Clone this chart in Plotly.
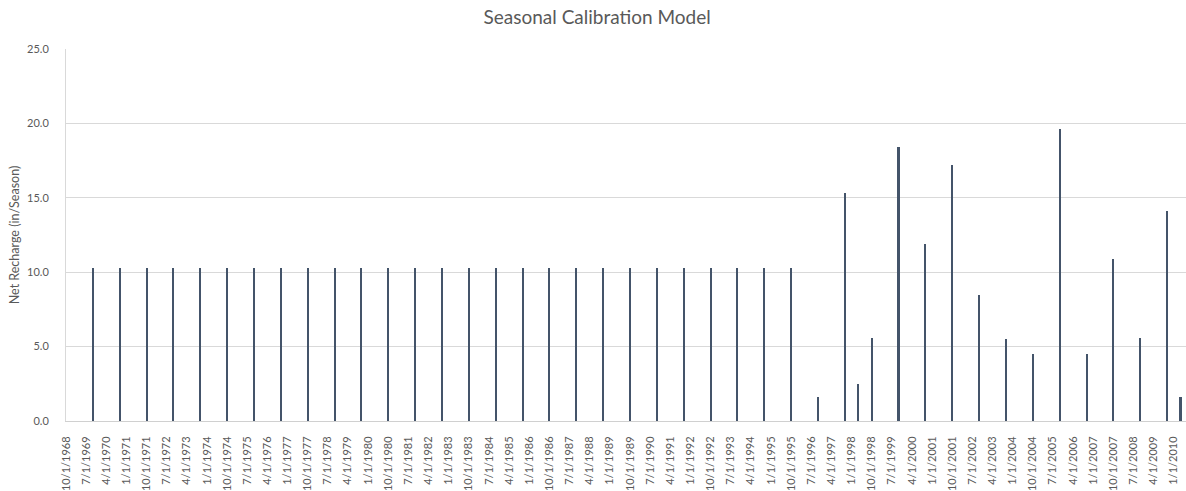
import pandas as pd
import plotly.graph_objects as go

# Season start dates with net recharge (in/season)
season_dates = [
    "10/1/1969", "10/1/1970", "10/1/1971", "10/1/1972", "10/1/1973", "10/1/1974",
    "10/1/1975", "10/1/1976", "10/1/1977", "10/1/1978", "10/1/1979", "10/1/1980",
    "10/1/1981", "10/1/1982", "10/1/1983", "10/1/1984", "10/1/1985", "10/1/1986",
    "10/1/1987", "10/1/1988", "10/1/1989", "10/1/1990", "10/1/1991", "10/1/1992",
    "10/1/1993", "10/1/1994", "10/1/1995", "10/1/1996", "10/1/1997", "4/1/1998",
    "10/1/1998", "10/1/1999", "10/1/2000", "10/1/2001", "10/1/2002", "10/1/2003",
    "10/1/2004", "10/1/2005", "10/1/2006", "10/1/2007", "10/1/2008", "10/1/2009",
    "4/1/2010",
]
net_recharge = [
    10.3, 10.3, 10.3, 10.3, 10.3, 10.3,
    10.3, 10.3, 10.3, 10.3, 10.3, 10.3,
    10.3, 10.3, 10.3, 10.3, 10.3, 10.3,
    10.3, 10.3, 10.3, 10.3, 10.3, 10.3,
    10.3, 10.3, 10.3, 1.6, 15.3, 2.5,
    5.6, 18.4, 11.9, 17.2, 8.5, 5.5,
    4.5, 19.6, 4.5, 10.9, 5.6, 14.1,
    1.6,
]

# Category labels shown along the time axis
tick_labels = [
    "10/1/1968", "7/1/1969", "4/1/1970", "1/1/1971", "10/1/1971", "7/1/1972",
    "4/1/1973", "1/1/1974", "10/1/1974", "7/1/1975", "4/1/1976", "1/1/1977",
    "10/1/1977", "7/1/1978", "4/1/1979", "1/1/1980", "10/1/1980", "7/1/1981",
    "4/1/1982", "1/1/1983", "10/1/1983", "7/1/1984", "4/1/1985", "1/1/1986",
    "10/1/1986", "7/1/1987", "4/1/1988", "1/1/1989", "10/1/1989", "7/1/1990",
    "4/1/1991", "1/1/1992", "10/1/1992", "7/1/1993", "4/1/1994", "1/1/1995",
    "10/1/1995", "7/1/1996", "4/1/1997", "1/1/1998", "10/1/1998", "7/1/1999",
    "4/1/2000", "1/1/2001", "10/1/2001", "7/1/2002", "4/1/2003", "1/1/2004",
    "10/1/2004", "7/1/2005", "4/1/2006", "1/1/2007", "10/1/2007", "7/1/2008",
    "4/1/2009", "1/1/2010",
]
y_ticks = [0, 5, 10, 15, 20, 25]

x_dates = pd.to_datetime(season_dates, format="%m/%d/%Y")
tick_dates = pd.to_datetime(tick_labels, format="%m/%d/%Y")

FONT = "Lato, 'Open Sans', sans-serif"
TEXT = "#595959"
GRID = "#D9D9D9"
BAR = "#44546A"
DAY_MS = 86400000

WIDTH, HEIGHT = 1186, 491
MARGIN = dict(l=66, r=0, t=49, b=70)
X_RANGE = ["1968-10-01", "2010-06-15"]

# Thin columns: about two screen pixels wide on the time axis
span_days = (pd.Timestamp(X_RANGE[1]) - pd.Timestamp(X_RANGE[0])).days
px_per_day = (WIDTH - MARGIN["l"] - MARGIN["r"]) / span_days
bar_width_ms = 2.02 / px_per_day * DAY_MS

fig = go.Figure(
    go.Bar(
        x=x_dates,
        y=net_recharge,
        width=bar_width_ms,
        marker=dict(color=BAR, line=dict(width=0)),
        showlegend=False,
    )
)

fig.update_layout(
    width=WIDTH,
    height=HEIGHT,
    margin=MARGIN,
    paper_bgcolor="white",
    plot_bgcolor="white",
    font=dict(family=FONT, color=TEXT, size=11),
    title=dict(
        text="Seasonal Calibration Model",
        x=0.5035,
        xanchor="center",
        y=1 - 17 / HEIGHT,
        yanchor="middle",
        font=dict(family=FONT, size=19, color=TEXT),
    ),
    bargap=0,
)

fig.update_xaxes(
    type="date",
    range=X_RANGE,
    tickmode="array",
    tickvals=tick_dates,
    ticktext=tick_labels,
    tickangle=-90,
    tickfont=dict(family=FONT, size=11, color=TEXT),
    showgrid=False,
    showline=True,
    linecolor="#D0D0D0",
    linewidth=1,
    ticks="",
    ticklabelstandoff=10,
)

fig.update_yaxes(
    range=[0, 25],
    tickmode="array",
    tickvals=y_ticks,
    tickformat=".1f",
    tickfont=dict(family=FONT, size=11, color=TEXT),
    showgrid=True,
    gridcolor=GRID,
    gridwidth=1,
    showline=True,
    linecolor=GRID,
    linewidth=1,
    zeroline=False,
    ticks="",
    ticklabelstandoff=14,
    title=dict(
        text="Net Recharge (in/Season)",
        font=dict(family=FONT, size=12.5, color=TEXT),
        standoff=4,
    ),
)

fig.write_html("out.html")
